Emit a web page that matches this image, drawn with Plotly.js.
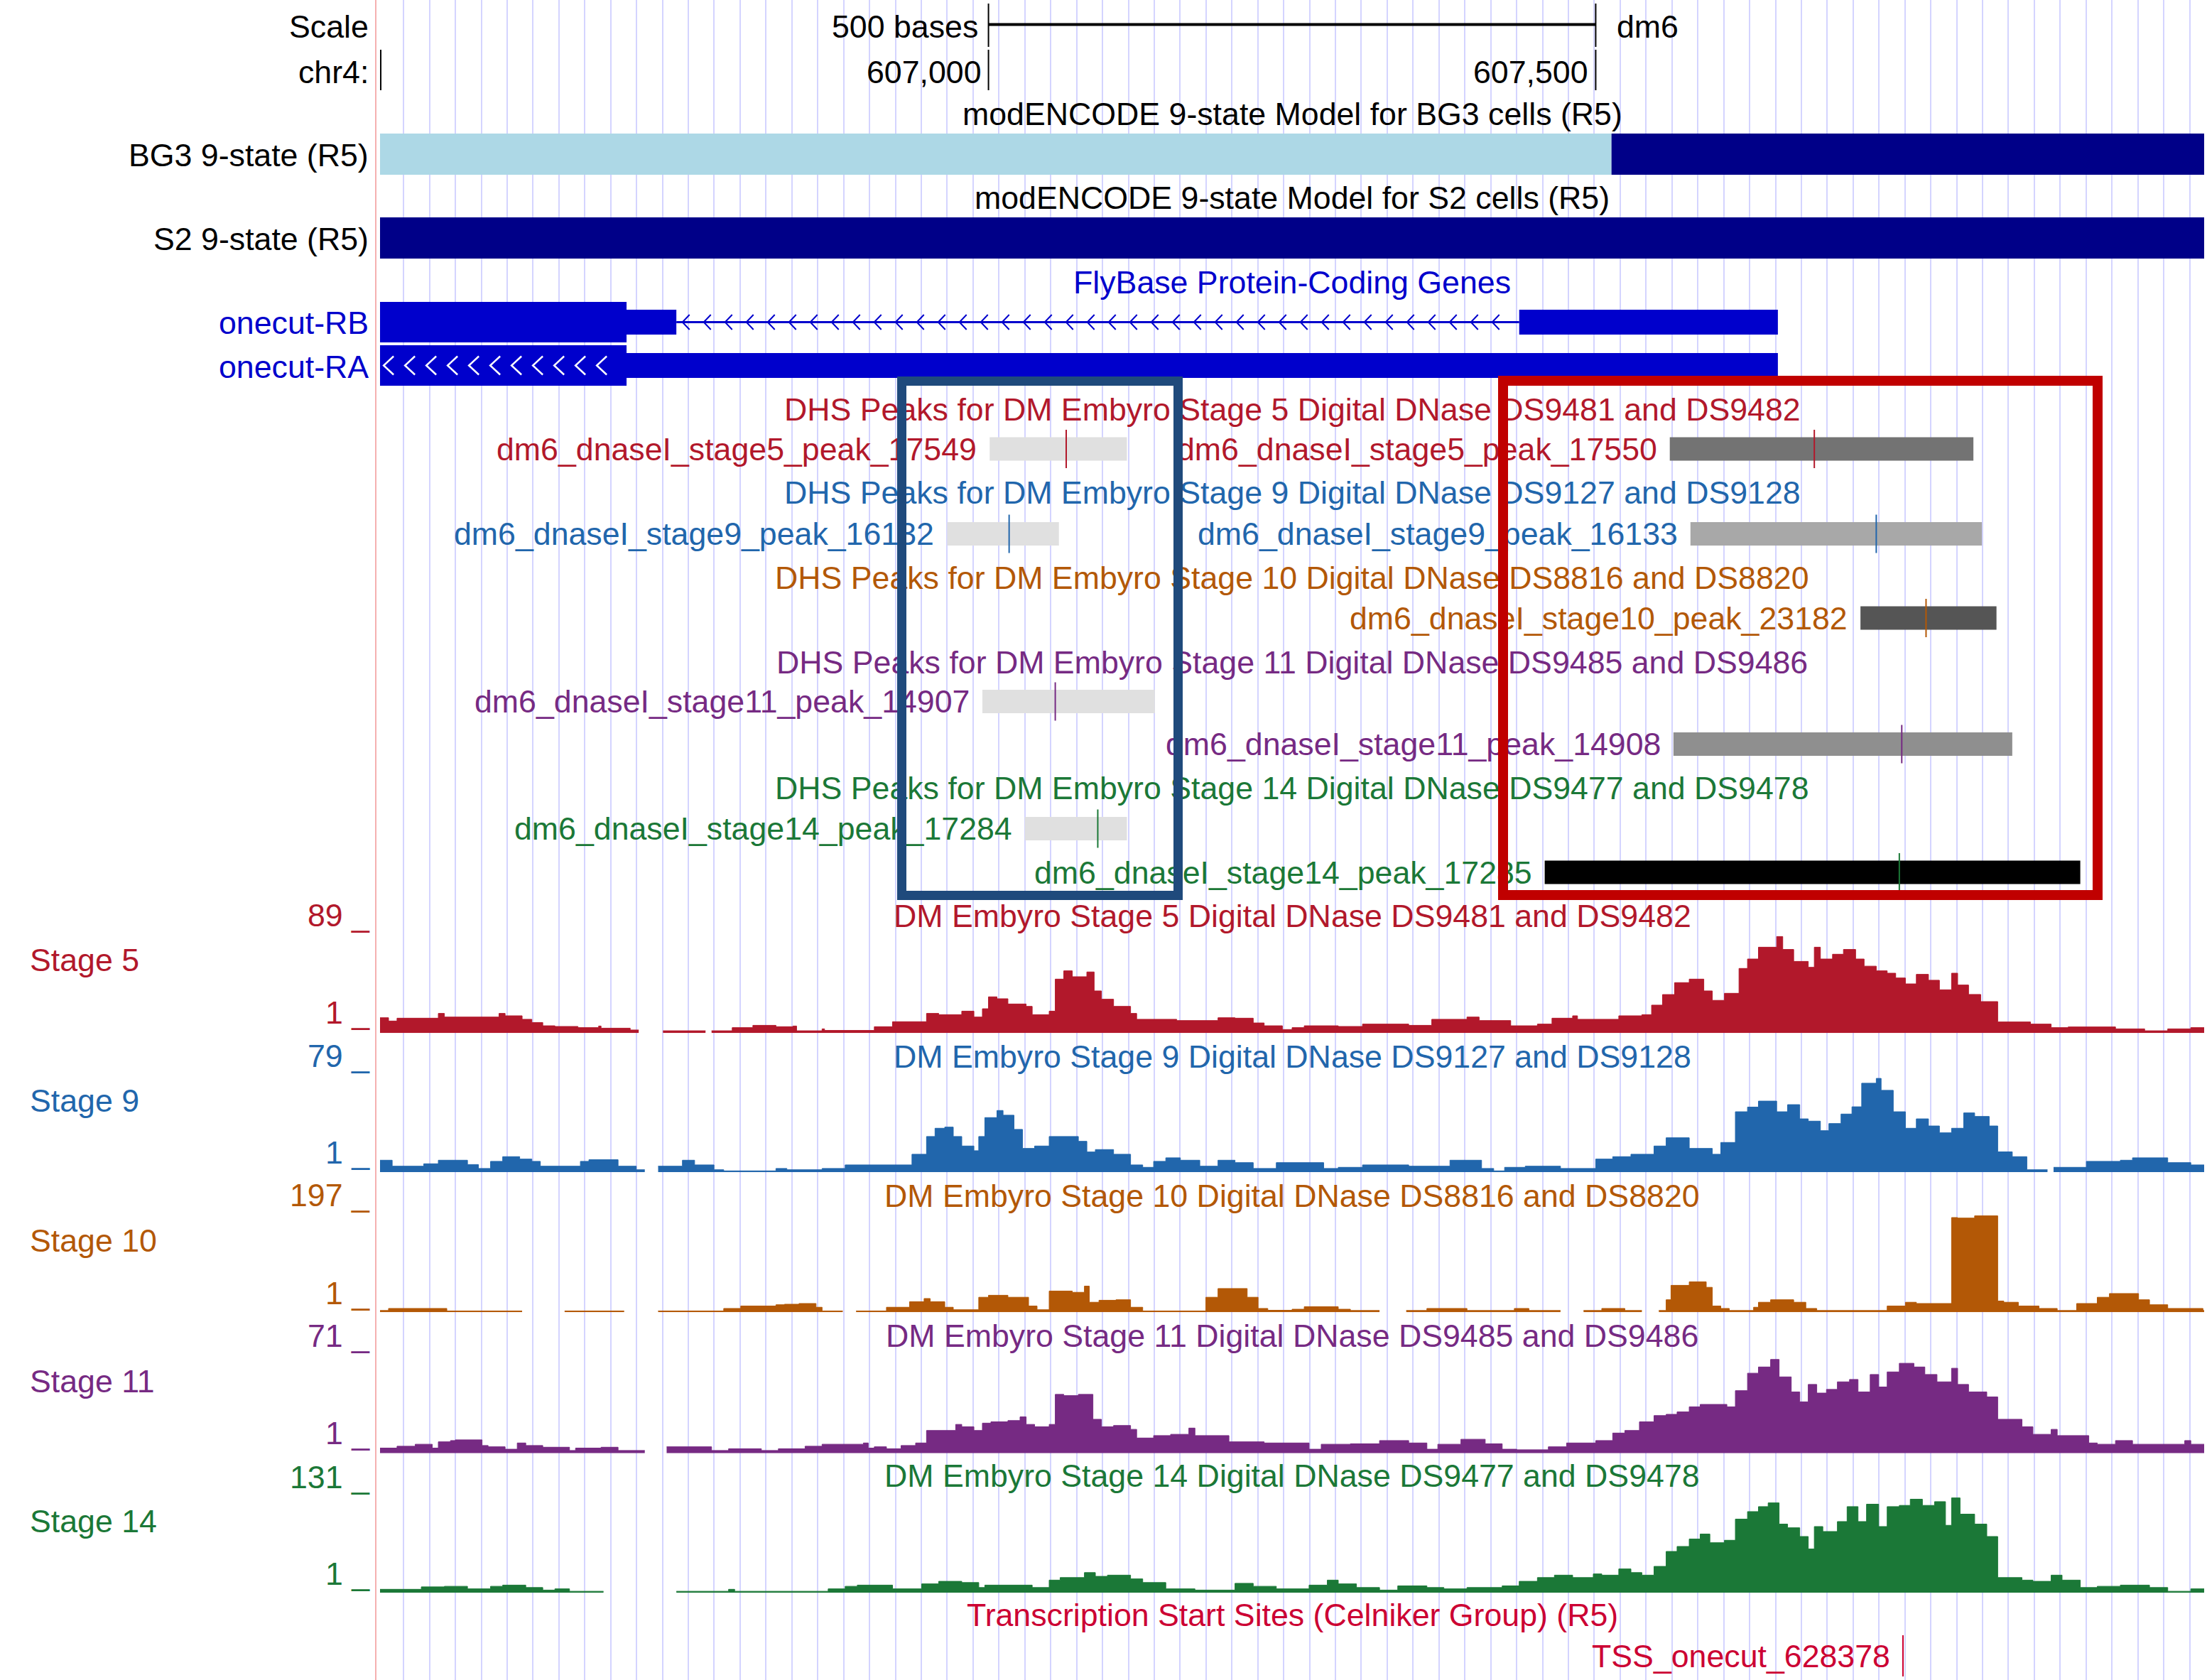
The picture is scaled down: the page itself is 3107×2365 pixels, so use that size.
<!DOCTYPE html>
<html><head><meta charset="utf-8">
<script src="https://cdn.plot.ly/plotly-3.0.1.min.js"></script>
<style>html,body{margin:0;padding:0;background:#fff;}#chart{width:3107px;height:2365px;}</style>
</head><body><div id="chart"></div>
<script>
// ================= DATA =================
const chrom = 'chr4';
const assembly = 'dm6';
const windowStart = 606499, windowEnd = 608001;
const scaleBarStart = 607000, scaleBarEnd = 607500;

// modENCODE 9-state chromatin model (state 7 = pericentromeric/dark blue, 8 = chr4-like/light blue)
const stateColors = {7: '#000088', 8: '#add8e6'};
const bg3States = [8, 7];
const bg3Bounds = [606499, 607513, 608001];
const s2States = [7];
const s2Bounds = [606499, 608001];

// FlyBase genes (minus strand)
const geneNames = ['onecut-RB', 'onecut-RA'];
const geneExons = [[[606300, 606743], [607437, 607650]], [[606300, 607650]]];
const geneThickEnd = [606702, 606702];

// DNase stages
const stageNames = ['Stage 5', 'Stage 9', 'Stage 10', 'Stage 11', 'Stage 14'];
const stageLibs = ['DS9481 and DS9482', 'DS9127 and DS9128', 'DS8816 and DS8820', 'DS9485 and DS9486', 'DS9477 and DS9478'];
const stageMax = [89, 79, 197, 71, 131];
const stageMin = [1, 1, 1, 1, 1];

// DHS peaks
const peakNames = ['dm6_dnaseI_stage5_peak_17549', 'dm6_dnaseI_stage5_peak_17550',
  'dm6_dnaseI_stage9_peak_16132', 'dm6_dnaseI_stage9_peak_16133',
  'dm6_dnaseI_stage10_peak_23182',
  'dm6_dnaseI_stage11_peak_14907', 'dm6_dnaseI_stage11_peak_14908',
  'dm6_dnaseI_stage14_peak_17284', 'dm6_dnaseI_stage14_peak_17285'];
const peakStage = [0, 0, 1, 1, 2, 3, 3, 4, 4];
const peakStart = [607001, 607561, 606966, 607578, 607718, 606995, 607564, 607030, 607458];
const peakEnd = [607114, 607811, 607058, 607818, 607830, 607137, 607843, 607114, 607899];
const peakSummit = [607064, 607680, 607017, 607731, 607772, 607055, 607752, 607090, 607750];
const peakScore = [0, 487, 0, 250, 620, 0, 362, 0, 1000];

// TSS
const tssName = 'TSS_onecut_628378';
const tssPos = 607753;

// Highlight boxes (genomic spans)
const highlightStart = [606928.6, 607424];
const highlightEnd = [607156.4, 607913.3];

// Signal tracks: offsets (bp from windowStart) and values (null = no data)
const s5_off = [0,7,14,48,53,98,103,117,125,134,144,163,180,182,206,213,233,268,273,290,307,326,340,343,364,366,407,422,450,460,479,489,496,501,508,517,532,537,551,556,563,570,582,588,594,604,618,623,656,690,704,719,728,743,
  751,761,789,809,847,866,895,905,931,953,965,982,986,1020,1039,1047,1056,1066,1078,1090,1097,1107,1119,1126,1135,1150,1155,1164,1176,1181,1186,1196,1205,1215,1222,1232,1241,1248,1256,1265,1275,1284,1294,1299,1308,1318,1332,1359,1376,1390,1429,1453,1472,1491];
const s5_val = [13.5,10.6,13.1,17.3,14.1,17.3,15.2,12.1,9.3,6.4,5.8,4.8,6.2,4.3,2.7,null,2.0,null,2.0,4.8,6.8,5.6,6.2,2.0,3.7,2.3,5.6,10.0,17.3,16.2,19.3,14.1,21.4,31.9,30.2,25.6,23.5,16.2,19.3,47.5,54.8,49.6,53.8,37.1,29.8,23.5,17.3,12.1,11.0,13.5,13.1,8.9,6.4,3.1,
  4.8,6.4,5.8,7.9,6.8,12.1,14.1,11.0,6.4,7.9,13.1,15.2,12.1,15.2,16.2,24.6,33.9,44.4,47.5,37.1,28.8,35.0,56.9,65.2,75.6,85.0,73.6,63.1,57.9,75.6,65.2,69.4,73.6,65.2,58.9,54.8,52.7,48.5,43.3,51.7,46.5,38.1,52.7,42.3,34.0,27.7,9.8,7.9,4.8,5.4,3.7,2.0,3.7,4.8];

const s9_off = [0,10,36,48,72,81,91,101,115,125,132,165,172,196,211,218,229,249,259,275,283,326,335,364,383,438,450,457,465,472,479,489,493,498,508,513,522,529,539,551,575,582,589,604,618,628,637,647,659,675,690,704,719,738,
  751,777,789,809,847,881,907,917,926,943,972,1001,1015,1030,1049,1059,1078,1097,1104,1116,1126,1135,1150,1159,1169,1176,1186,1193,1203,1212,1220,1232,1236,1246,1256,1265,1275,1284,1294,1304,1313,1325,1332,1344,1356,1373,1378,1405,1433,1443,1472,1491];
const s9_val = [9.4,4.7,6.6,9.4,6.0,2.9,8.5,12.2,10.3,8.5,4.7,8.5,9.8,4.7,1.9,null,4.7,9.4,5.7,1.9,1.0,2.9,1.9,2.9,5.7,14.1,28.1,34.6,35.5,28.1,20.6,16.9,28.1,43.0,48.6,44.9,33.7,18.7,20.6,28.1,24.3,15.9,17.8,14.1,5.7,3.8,8.5,11.3,9.4,4.7,9.4,7.5,2.9,7.5,
  7.5,2.9,3.8,5.7,4.7,9.4,2.9,1.0,3.8,4.7,2.9,10.3,12.2,14.1,20.6,27.1,18.7,14.1,23.4,47.6,51.3,56.0,47.6,53.2,42.0,40.2,32.7,38.3,45.8,51.5,70.1,73.9,64.5,47.6,34.6,42.0,36.4,31.0,34.6,46.7,43.9,36.4,16.0,12.2,1.9,null,3.8,8.5,9.4,11.3,7.5,5.7];

const s10_off = [0,7,55,117,152,201,229,283,297,326,333,345,359,364,381,392,417,436,448,453,465,472,493,501,517,534,541,551,570,580,584,592,606,618,628,680,690,714,723,731,
  751,761,789,799,823,845,862,895,934,946,972,991,1006,1025,1039,1053,1059,1063,1078,1092,1097,1104,1111,1131,1135,1145,1164,1174,1183,1241,1256,1265,1294,1299,1313,1332,1337,1349,1366,1381,1397,1414,1424,1448,1457,1472,1501];
const s10_val = [3.4,7.4,2.5,null,2.5,null,2.5,7.4,12.2,14.7,15.7,17.1,9.8,2.5,null,2.5,9.8,20.6,26.9,20.6,9.8,4.9,29.4,33.3,29.4,12.2,4.9,41.6,39.1,51.3,19.6,23.5,24.5,9.8,2.5,29.4,46.5,29.4,7.4,3.9,
  5.9,10.8,5.9,3.4,null,3.4,7.4,3.4,7.4,3.4,null,3.4,7.4,3.4,null,3.4,24.5,52.8,59.7,48.9,12.2,7.4,3.4,9.8,19.6,24.5,19.6,7.4,3.4,12.2,19.6,17.1,185.8,184.8,189.2,22.0,19.6,12.2,7.4,3.4,17.1,29.4,36.7,24.5,14.7,7.4,3.4];

const s11_off = [0,14,29,43,48,58,62,84,89,103,113,120,134,156,161,182,196,218,236,273,287,314,328,350,364,398,402,407,417,429,441,450,474,479,489,496,503,517,527,532,539,551,556,563,575,587,594,604,618,623,637,651,666,671,699,728,
  751,765,775,799,823,847,862,871,890,910,924,936,962,977,1001,1015,1025,1037,1049,1059,1068,1078,1087,1109,1116,1126,1135,1145,1152,1162,1169,1176,1183,1191,1200,1210,1217,1227,1234,1241,1251,1263,1272,1282,1294,1299,1308,1323,1332,1352,1361,1376,1381,1407,1414,1429,1443,1486,1491];
const s11_val = [3.6,4.9,6.3,3.6,8.0,8.9,9.4,5.4,4.5,2.8,7.2,5.4,4.2,1.9,3.6,4.2,1.9,null,4.5,1.9,3.1,1.9,3.1,4.9,6.3,7.2,3.6,4.5,3.1,5.4,7.2,16.0,20.3,18.6,16.0,21.2,22.1,23.0,25.6,20.3,18.6,20.3,41.5,40.6,41.5,23.9,18.6,19.5,16.8,10.7,12.4,13.3,17.7,12.4,8.0,7.2,
  7.2,2.8,6.3,6.6,8.9,7.2,2.8,6.3,9.8,6.6,2.8,2.4,4.5,7.2,8.9,14.2,16.0,22.1,26.5,27.4,29.1,32.7,34.4,32.7,44.1,56.4,60.8,66.1,53.8,43.2,36.2,48.5,42.4,45.0,50.3,52.0,43.2,55.5,46.7,57.3,63.4,60.8,55.5,50.3,59.9,48.5,43.2,39.7,23.9,18.6,13.3,16.8,12.4,7.2,6.3,8.9,6.3,8.9,6.3];

const s14_off = [0,34,53,72,91,101,120,134,144,156,184,244,287,292,369,383,393,422,446,460,479,493,498,537,551,560,580,589,599,618,628,647,671,704,719,738,
  751,765,780,789,804,823,838,862,876,895,924,938,953,967,982,999,1006,1020,1030,1039,1049,1059,1068,1078,1087,1095,1107,1116,1126,1135,1143,1152,1159,1169,1176,1181,1188,1200,1208,1217,1224,1234,1241,1251,1260,1270,1280,1289,1294,1301,1313,1323,1332,1352,1361,1376,1385,1400,1414,1433,1457,1472,1491];
const s14_val = [4.6,7.8,8.5,5.2,8.5,10.1,6.9,3.6,5.2,2.0,null,2.0,4.6,2.0,5.2,8.5,10.1,5.2,11.7,15.0,13.4,6.9,10.1,6.9,16.6,19.9,26.4,21.5,23.1,18.2,13.4,5.2,3.6,12.4,8.5,5.2,
  5.2,10.1,16.6,11.7,6.9,3.6,9.1,6.9,5.2,6.9,9.1,15.0,19.9,23.1,19.9,24.7,23.1,31.2,26.4,23.1,34.5,54.0,60.5,70.2,76.7,65.4,68.6,96.2,106.0,112.5,117.4,89.7,84.9,73.5,57.2,86.5,80.0,93.0,112.5,93.0,115.7,86.5,112.5,114.1,122.2,114.1,119.0,88.1,123.9,102.7,89.7,73.5,19.9,16.6,15.0,23.1,16.6,6.9,8.5,10.1,6.9,2.0,5.2];

const signalOffsets = [s5_off, s9_off, s10_off, s11_off, s14_off];
const signalValues = [s5_val, s9_val, s10_val, s11_val, s14_val];

// ================= LAYOUT / STYLE =================
const W = 3107, H = 2365;
const PX_L = 535, PX_R = 3103;
const FONT = 'Liberation Sans, Arial, Helvetica, sans-serif';
const FS = 44.7;
const stageColors = ['#b2182b', '#2166ac', '#b35806', '#762a83', '#1b7837'];
const geneColor = '#0000cc';
const tssColor = '#cc0033';
const gridColor = '#d4d4ff';
const boxColors = ['#1f4a7c', '#c00000'];
const boxWidths = [13, 14];
const labelRightPx = 521, numRightPx = 523, stageLeftPx = 40;
const rowY = {scaleText: 37.5, scaleBar: 34.6, coordText: 101, bg3Title: 160, bg3: 217, bg3Label: 218,
  s2Title: 278, s2: 335, s2Label: 336, geneTitle: 397, genes: [453.5, 514.5], geneLabels: [454.5, 516]};
const dhsTitleY = [576, 693, 813, 932, 1109];
const peakRowY = [632, 632, 751.5, 751.5, 870, 987.5, 1047.5, 1166.5, 1228];
const trackTopPx = [1312, 1509, 1706, 1904, 2101];
const trackZeroPx = [1454.3, 1650.1, 1847.3, 2045.7, 2242.3];
const trackTitleY = [1289.5, 1487, 1683, 1880, 2077.5];
const maxLabelY = [1288, 1486, 1682, 1880, 2079];
const minLabelY = [1425, 1622.5, 1820, 2017.5, 2215];
const stageLabelY = [1351, 1549, 1746.5, 1944, 2141];
const tssTitleY = 2273.5, tssRowY = 2331;

const pxPerBp = (PX_R - PX_L) / (windowEnd - windowStart);
const mid = (windowStart + windowEnd) / 2;
const annotations = [], shapes = [];

function txt(t, x, xref, y, color, xanchor, xshift) {
  annotations.push({text: t, x: x, xref: xref, y: y, yref: 'y', xanchor: xanchor || 'center', yanchor: 'middle',
    xshift: xshift || 0, showarrow: false, font: {family: FONT, size: FS, color: color}});
}
function rect(x0, x1, yc, half, color) {
  shapes.push({type: 'rect', xref: 'x', yref: 'y', x0: Math.max(x0, windowStart), x1: Math.min(x1, windowEnd),
    y0: yc - half, y1: yc + half, fillcolor: color, line: {width: 0}});
}
function seg(x0, y0, x1, y1, color, w, xref) {
  shapes.push({type: 'line', xref: xref || 'x', yref: 'y', x0: x0, x1: x1, y0: y0, y1: y1, line: {color: color, width: w}});
}
const fmt = n => n.toLocaleString('en-US');
const paperX = px => px / W;

// ---- header / scale ----
txt('Scale', paperX(labelRightPx), 'paper', rowY.scaleText, '#000', 'right');
txt(chrom + ':', paperX(labelRightPx), 'paper', rowY.coordText, '#000', 'right');
txt((scaleBarEnd - scaleBarStart) + ' bases', scaleBarStart, 'x', rowY.scaleText, '#000', 'right', -13);
txt(assembly, scaleBarEnd, 'x', rowY.scaleText, '#000', 'left', 28);
seg(scaleBarStart, rowY.scaleBar, scaleBarEnd, rowY.scaleBar, '#000', 4);
[scaleBarStart, scaleBarEnd].forEach(p => {
  seg(p, 5, p, 66, '#000', 2);
  seg(p, 70, p, 127, '#000', 2);
  txt(fmt(p), p, 'x', rowY.coordText, '#000', 'right', -8);
});
seg(windowStart + 0.6, 70, windowStart + 0.6, 127, '#000', 2);

// ---- chromatin states ----
txt('modENCODE 9-state Model for BG3 cells (R5)', mid, 'x', rowY.bg3Title, '#000');
for (let i = 0; i < bg3States.length; i++) rect(bg3Bounds[i], bg3Bounds[i + 1], rowY.bg3, 29, stateColors[bg3States[i]]);
txt('BG3 9-state (R5)', paperX(labelRightPx), 'paper', rowY.bg3Label, '#000', 'right');
txt('modENCODE 9-state Model for S2 cells (R5)', mid, 'x', rowY.s2Title, '#000');
for (let i = 0; i < s2States.length; i++) rect(s2Bounds[i], s2Bounds[i + 1], rowY.s2, 29, stateColors[s2States[i]]);
txt('S2 9-state (R5)', paperX(labelRightPx), 'paper', rowY.s2Label, '#000', 'right');

// ---- genes ----
txt('FlyBase Protein-Coding Genes', mid, 'x', rowY.geneTitle, geneColor);
const chevSpacing = 30 / pxPerBp;
geneNames.forEach((name, g) => {
  const yc = rowY.genes[g];
  const ex = geneExons[g];
  for (let e = 0; e < ex.length; e++) {
    rect(ex[e][0], ex[e][1], yc, 17.5, geneColor);
    const t1 = Math.min(ex[e][1], geneThickEnd[g]);
    if (t1 > ex[e][0]) rect(ex[e][0], t1, yc, 28.5, geneColor);
    if (e < ex.length - 1) {
      const i0 = ex[e][1], i1 = ex[e + 1][0];
      seg(i0, yc, i1, yc, geneColor, 3);
      let p = '';
      const w = 10 / pxPerBp;
      for (let x = i0 + 5; x + w < i1 - 3; x += chevSpacing) p += `M${x + w},${yc - 10.5}L${x},${yc}L${x + w},${yc + 10.5}`;
      shapes.push({type: 'path', xref: 'x', yref: 'y', path: p, line: {color: geneColor, width: 2}});
    }
  }
  // strand arrows drawn in white inside the coding block of the RA isoform
  if (g === 1) {
    let p = '';
    const w = 14 / pxPerBp;
    for (let x = windowStart + 3; x + w < geneThickEnd[g] - 10; x += chevSpacing) p += `M${x + w},${yc - 13}L${x},${yc}L${x + w},${yc + 13}`;
    shapes.push({type: 'path', xref: 'x', yref: 'y', path: p, line: {color: '#ffffff', width: 2.5}});
  }
  txt(name, paperX(labelRightPx), 'paper', rowY.geneLabels[g], geneColor, 'right');
});

// ---- DHS peaks ----
stageNames.forEach((s, k) => txt('DHS Peaks for DM Embyro ' + s + ' Digital DNase ' + stageLibs[k], mid, 'x', dhsTitleY[k], stageColors[k]));
const gray = sc => { const v = Math.round(224 * (1 - sc / 1000)); return `rgb(${v},${v},${v})`; };
peakNames.forEach((n, i) => {
  const yc = peakRowY[i], col = stageColors[peakStage[i]];
  rect(peakStart[i], peakEnd[i], yc, 16.5, gray(peakScore[i]));
  seg(peakSummit[i], yc - 27, peakSummit[i], yc + 27, col, 2);
  txt(n, peakStart[i], 'x', yc, col, 'right', -16);
});

// ---- signal tracks ----
const traces = [{x: [], y: [], xaxis: 'x', yaxis: 'y', mode: 'lines', showlegend: false, hoverinfo: 'skip'}];
const layoutAxes = {};
signalOffsets.forEach((off, k) => {
  const val = signalValues[k];
  const yname = 'y' + (k + 2);
  layoutAxes['yaxis' + (k + 2)] = {domain: [1 - trackZeroPx[k] / H, 1 - trackTopPx[k] / H], range: [0, stageMax[k]],
    anchor: 'x', showgrid: false, zeroline: false, showticklabels: false, ticks: '', showline: false, fixedrange: true};
  // split into contiguous runs; each run extends its last value up to the next position
  let xs = [], ys = [];
  const flush = () => {
    if (xs.length) traces.push({x: xs, y: ys, xaxis: 'x', yaxis: yname, mode: 'lines',
      line: {shape: 'hv', width: 1, color: stageColors[k]}, fill: 'tozeroy', fillcolor: stageColors[k],
      showlegend: false, hoverinfo: 'skip'});
    xs = []; ys = [];
  };
  for (let i = 0; i < off.length; i++) {
    const x = windowStart + off[i];
    if (val[i] === null) { if (xs.length) { xs.push(x); ys.push(ys[ys.length - 1]); } flush(); }
    else { xs.push(x); ys.push(val[i]); }
  }
  if (xs.length) { xs.push(windowEnd); ys.push(ys[ys.length - 1]); }
  flush();
  txt('DM Embyro ' + stageNames[k] + ' Digital DNase ' + stageLibs[k], mid, 'x', trackTitleY[k], stageColors[k]);
  txt(stageMax[k] + ' _', paperX(numRightPx), 'paper', maxLabelY[k], stageColors[k], 'right');
  txt(stageMin[k] + ' _', paperX(numRightPx), 'paper', minLabelY[k], stageColors[k], 'right');
  txt(stageNames[k], paperX(stageLeftPx), 'paper', stageLabelY[k], stageColors[k], 'left');
});

// ---- TSS ----
txt('Transcription Start Sites (Celniker Group) (R5)', mid, 'x', tssTitleY, tssColor);
seg(tssPos, tssRowY - 29, tssPos, tssRowY + 29, tssColor, 2);
txt(tssName, tssPos, 'x', tssRowY, tssColor, 'right', -16);

// left separator line
seg(paperX(529), 0, paperX(529), H, '#f5b0b0', 2, 'paper');

// ---- highlight boxes (drawn last, on top of text) ----
const boxY0 = 536, boxY1 = 1260;
highlightStart.forEach((s, i) => {
  const wpx = (highlightEnd[i] - s) * pxPerBp;
  annotations.push({text: ' ', x: (s + highlightEnd[i]) / 2, xref: 'x', y: (boxY0 + boxY1) / 2, yref: 'y',
    xanchor: 'center', yanchor: 'middle', showarrow: false, width: wpx - boxWidths[i], height: boxY1 - boxY0 - boxWidths[i],
    borderpad: 0, borderwidth: boxWidths[i], bordercolor: boxColors[i], bgcolor: 'rgba(0,0,0,0)', font: {size: 10}});
});

const layout = Object.assign({
  width: W, height: H, margin: {l: 0, r: 0, t: 0, b: 0, pad: 0}, autosize: false,
  paper_bgcolor: '#ffffff', plot_bgcolor: 'rgba(0,0,0,0)', showlegend: false,
  xaxis: {domain: [PX_L / W, PX_R / W], range: [windowStart, windowEnd], anchor: 'y', showgrid: true, gridcolor: gridColor,
    gridwidth: 2, tick0: windowStart + 33.2 / pxPerBp, dtick: 36.44 / pxPerBp, showticklabels: false, ticks: '',
    zeroline: false, showline: false, fixedrange: true},
  yaxis: {domain: [0, 1], range: [H, 0], anchor: 'x', showgrid: false, zeroline: false, showticklabels: false,
    ticks: '', showline: false, fixedrange: true},
  annotations: annotations, shapes: shapes
}, layoutAxes);

Plotly.newPlot('chart', traces, layout, {displayModeBar: false, staticPlot: true});
</script></body></html>
